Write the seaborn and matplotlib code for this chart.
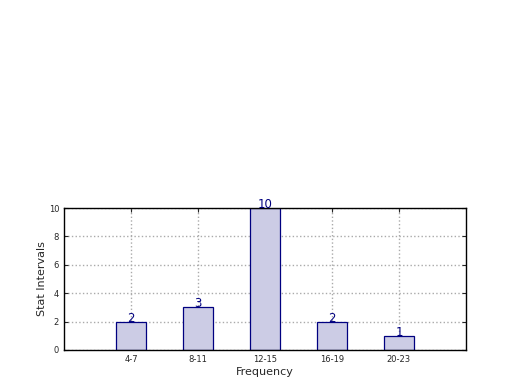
import matplotlib
matplotlib.use("Agg")
import matplotlib.pyplot as plt
import seaborn as sns
import pandas as pd

categories = ["4-7", "8-11", "12-15", "16-19", "20-23"]
counts = [2, 3, 10, 2, 1]

sns.set_style("white")
plt.rcParams['font.family'] = ['DejaVu Sans']

df = pd.DataFrame({"cat": categories, "count": counts})

fig = plt.figure(figsize=(5.2, 3.9), dpi=100)
ax = fig.add_axes([0.123, 0.1026, 0.773, 0.364])

sns.barplot(data=df, x="cat", y="count", ax=ax, color="#ccccE5",
            edgecolor="#000080", linewidth=0.9, width=0.45, saturation=1, zorder=2)

for i, v in enumerate(counts):
    ax.text(i, v, str(v), ha="center", va="baseline", color="#000080", fontsize=8.5, zorder=3)

ax.set_xlim(-1, 5)
ax.set_ylim(0, 10)
ax.set_yticks([0, 2, 4, 6, 8, 10])
ax.grid(True, linestyle=":", color="#aaaaaa", linewidth=1, zorder=0)
ax.set_axisbelow(True)
for s in ax.spines.values():
    s.set_visible(True)
    s.set_color("black")
    s.set_linewidth(1)
ax.tick_params(axis="x", labelsize=6, direction="in", length=3)
ax.tick_params(axis="y", labelsize=6, direction="in", length=3)
ax.tick_params(top=True, right=True, bottom=True, left=True)
ax.set_xlabel("Frequency", fontsize=8, labelpad=2)
ax.set_ylabel("Stat Intervals", fontsize=8, labelpad=1)

fig.savefig("out.png", dpi=100)
